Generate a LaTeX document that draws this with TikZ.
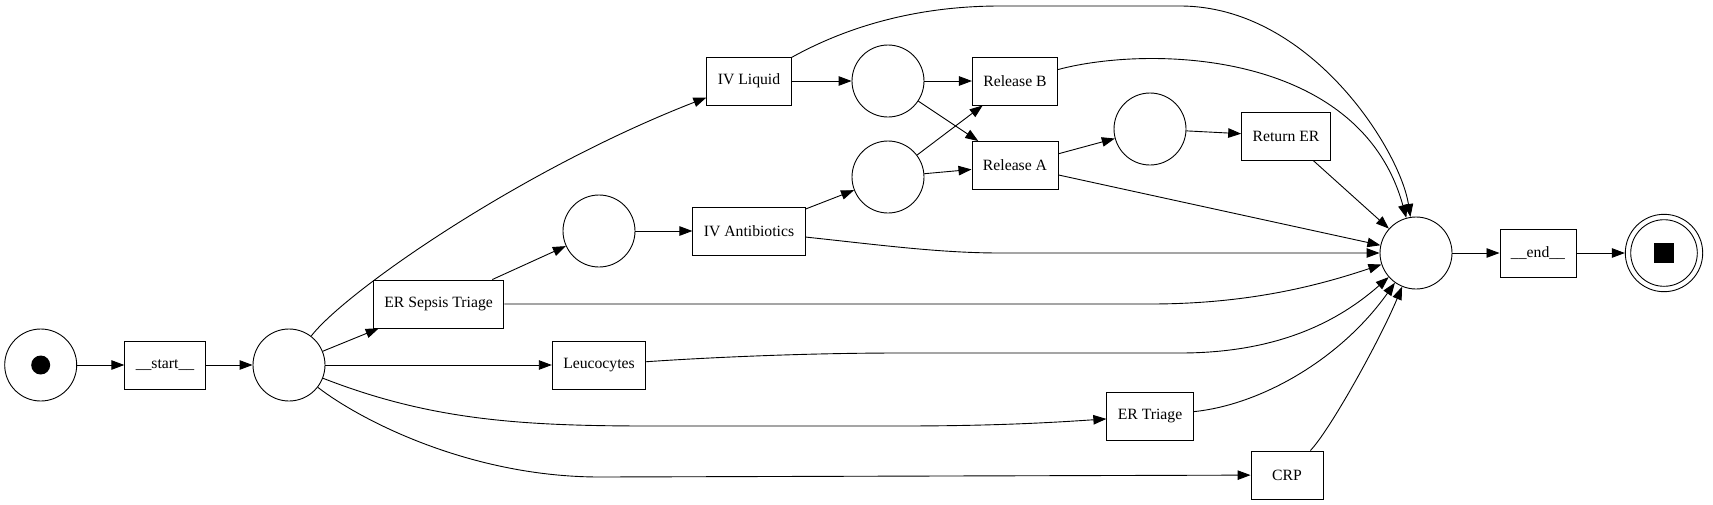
\documentclass[tikz,border=0pt]{standalone}
\usepackage{fontspec}
\setmainfont{Liberation Serif}
\usetikzlibrary{arrows.meta}
\begin{document}
\begin{tikzpicture}%
        [x=1pt, y=-1pt,
        place/.style={circle, draw, line width=0.9pt, minimum size=72pt, inner sep=0pt},
        trans/.style={rectangle, draw, line width=0.9pt, minimum width=72pt, minimum height=48pt,
            inner xsep=11pt, inner ysep=0pt, font=\fontsize{15.7}{18}\selectfont},
        flow/.style={line width=0.9pt, -{Triangle[length=13pt,width=9.5pt]}}]
    \useasboundingbox (0,0) rectangle (1713,504);
    %%
    %% Places and transitions
    %%
    \node[place] (src) at (40.7,365) {};
    \node[trans] (start) at (165,365) {\_\_start\_\_};
    \node[place] (p1) at (289,365) {};
    \node[trans] (sepsis) at (438.6,304) {ER Sepsis Triage};
    \node[place] (psep) at (599,231) {};
    \node[trans] (ivab) at (749,231) {IV Antibiotics};
    \node[trans] (ivliq) at (749,81) {IV Liquid};
    \node[place] (pliq) at (888,81) {};
    \node[place] (pab) at (888,177) {};
    \node[trans] (relb) at (1015,81) {Release B};
    \node[trans] (rela) at (1015,165.5) {Release A};
    \node[place] (pret) at (1150,129) {};
    \node[trans] (reter) at (1286,136) {Return ER};
    \node[trans] (leuc) at (599,365) {Leucocytes};
    \node[trans] (ertri) at (1150,416) {ER Triage};
    \node[trans] (crp) at (1287,475) {CRP};
    \node[place] (pend) at (1416,253) {};
    \node[trans] (fin) at (1538,253) {\_\_end\_\_};
    \node[place, minimum size=77.4pt] (snk) at (1664,253) {};
    %% tokens
    \fill (src) circle (9.5pt);
    \draw[line width=0.9pt] (snk.center) circle (33.3pt);
    \fill (1654.15,243.15) rectangle (1673.85,262.85);
    %%
    %% Straight arcs
    %%
    \draw[flow] (src) -- (start);
    \draw[flow] (start) -- (p1);
    \draw[flow] (p1) -- (sepsis);
    \draw[flow] (p1) -- (leuc);
    \draw[flow] (sepsis) -- (psep);
    \draw[flow] (psep) -- (ivab);
    \draw[flow] (ivab) -- (pab);
    \draw[flow] (ivliq) -- (pliq);
    \draw[flow] (pliq) -- (relb);
    \draw[flow] (pliq) -- (rela);
    \draw[flow] (pab) -- (relb);
    \draw[flow] (pab) -- (rela);
    \draw[flow] (rela) -- (pret);
    \draw[flow] (pret) -- (reter);
    \draw[flow] (rela) -- (pend);
    \draw[flow] (reter) -- (pend);
    \draw[flow] (pend) -- (fin);
    \draw[flow] (fin) -- (snk);
    %%
    %% Curved arcs
    %%
    \draw[flow] (p1) .. controls (345,292) and (520,170) .. (ivliq);
    \draw[flow] (p1) .. controls (430,420) and (520,426) .. (650,426) -- (900,426)
        .. controls (1000,426) and (1060,422) .. (ertri);
    \draw[flow] (p1) .. controls (360,420) and (470,477) .. (600,477) -- (crp);
    \draw[flow] (ivliq) .. controls (850,25) and (920,6) .. (1000,6) -- (1180,6)
        .. controls (1310,6) and (1400,150) .. (pend);
    \draw[flow] (relb) .. controls (1150,45) and (1360,50) .. (pend);
    \draw[flow] (ivab) .. controls (880,245) and (940,253) .. (1000,253) -- (pend);
    \draw[flow] (sepsis) -- (1150,304) .. controls (1250,304) and (1320,285) .. (pend);
    \draw[flow] (leuc) .. controls (700,358) and (800,353) .. (900,353) -- (1180,353)
        .. controls (1280,353) and (1340,320) .. (pend);
    \draw[flow] (ertri) .. controls (1260,405) and (1340,360) .. (pend);
    \draw[flow] (crp) .. controls (1330,430) and (1380,340) .. (pend);
    %%
\end{tikzpicture}
\end{document}
